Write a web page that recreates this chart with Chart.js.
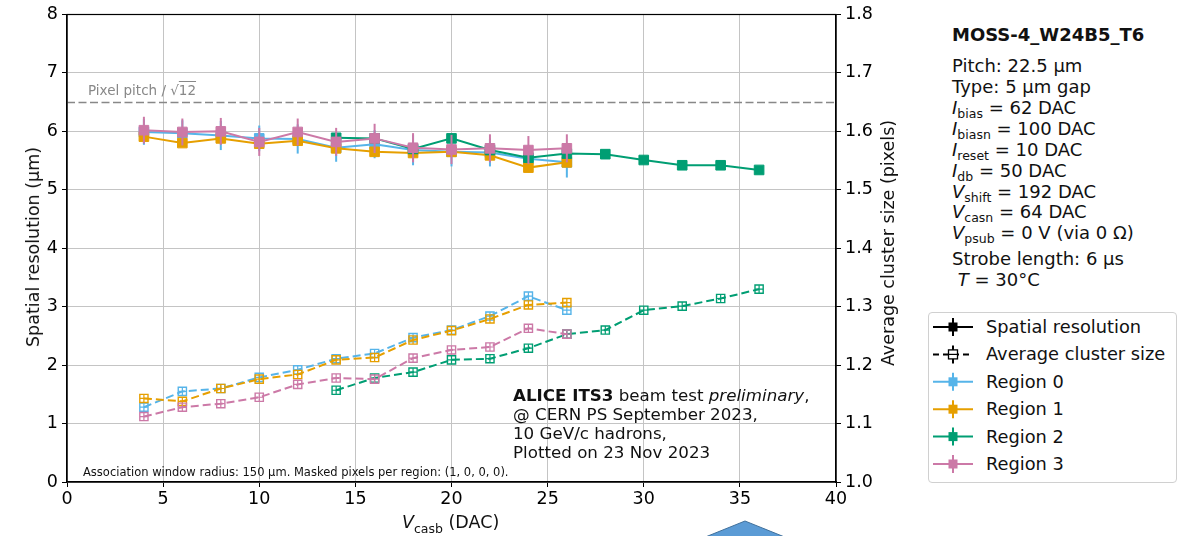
<!DOCTYPE html>
<html>
<head>
<meta charset="utf-8">
<script src="https://cdn.jsdelivr.net/npm/chart.js@4.4.0/dist/chart.umd.min.js"></script>
<style>
  body { margin: 0; background: #fff; font-family: "DejaVu Sans", sans-serif; color: #111; }
  #wrap { position: relative; width: 1178px; height: 536px; overflow: hidden; }
  #plot { position: absolute; left: 0; top: 0; }
  .t { position: absolute; white-space: nowrap; }
  .info { left: 952px; font-size: 18px; line-height: 20px; }
  .info sub { font-size: 12.5px; line-height: 0; vertical-align: -4px; }
  .leg { left: 986px; font-size: 17.8px; line-height: 20px; }
  #legbox { position: absolute; left: 928px; top: 312px; width: 247px; height: 169px;
            border: 1px solid #d0d0d0; border-radius: 4px; }
</style>
</head>
<body>
<div id="wrap">
  <canvas id="plot" width="920" height="536"></canvas>

  <div class="t" style="left:88px; top:82px; font-size:13.5px; color:#888;">Pixel pitch / √<span style="text-decoration:overline;">12</span></div>
  <div class="t" style="left:83px; top:465px; font-size:11.5px;">Association window radius: 150 μm. Masked pixels per region: (1, 0, 0, 0).</div>
  <div class="t" style="left:513px; top:386px; font-size:16.7px; line-height:19px;">
    <b>ALICE ITS3</b> beam test <i>preliminary</i>,<br>@ CERN PS September 2023,<br>10 GeV/c hadrons,<br>Plotted on 23 Nov 2023
  </div>

  <div class="t" style="left:402px; top:512px; font-size:17.5px;"><i>V</i><sub style="font-size:12.5px;">casb</sub> (DAC)</div>
  <div class="t" style="left:33px; top:247px; font-size:17.5px; transform: translate(-50%,-50%) rotate(-90deg);">Spatial resolution (μm)</div>
  <div class="t" style="left:888px; top:243px; font-size:17.5px; transform: translate(-50%,-50%) rotate(-90deg);">Average cluster size (pixels)</div>

  <div class="t info" style="top:25px; font-weight:bold;">MOSS-4_W24B5_T6</div>
  <div class="t info" style="top:56px;">Pitch: 22.5 μm</div>
  <div class="t info" style="top:77px;">Type: 5 μm gap</div>
  <div class="t info" style="top:98px;"><i>I</i><sub>bias</sub> = 62 DAC</div>
  <div class="t info" style="top:119px;"><i>I</i><sub>biasn</sub> = 100 DAC</div>
  <div class="t info" style="top:140px;"><i>I</i><sub>reset</sub> = 10 DAC</div>
  <div class="t info" style="top:161px;"><i>I</i><sub>db</sub> = 50 DAC</div>
  <div class="t info" style="top:182px;"><i>V</i><sub>shift</sub> = 192 DAC</div>
  <div class="t info" style="top:202px;"><i>V</i><sub>casn</sub> = 64 DAC</div>
  <div class="t info" style="top:223px;"><i>V</i><sub>psub</sub> = 0 V (via 0 Ω)</div>
  <div class="t info" style="top:249px;">Strobe length: 6 μs</div>
  <div class="t info" style="top:270px;">&nbsp;<i>T</i> = 30°C</div>

  <div id="legbox"></div>
  <svg class="t" style="left:930px; top:314px;" width="50" height="166" id="legsvg"></svg>
  <div class="t leg" style="top:317px;">Spatial resolution</div>
  <div class="t leg" style="top:344px;">Average cluster size</div>
  <div class="t leg" style="top:372px;">Region 0</div>
  <div class="t leg" style="top:399px;">Region 1</div>
  <div class="t leg" style="top:427px;">Region 2</div>
  <div class="t leg" style="top:454px;">Region 3</div>

  <svg class="t" style="left:0; top:0;" width="1178" height="536" pointer-events="none">
    <polygon points="698,540 745,521 792,540" fill="#5B9BD5" stroke="#41719C" stroke-width="1"/>
  </svg>
</div>

<script>
// V_casb values (DAC)
var vcasbA = [4, 6, 8, 10, 12, 14, 16, 18, 20, 22, 24, 26];   // regions 0, 1, 3
var vcasbB = [14, 16, 18, 20, 22, 24, 26, 28, 30, 32, 34, 36]; // region 2

// spatial resolution (um) and its errors
var resR0 = [5.99, 5.97, 5.93, 5.88, 5.87, 5.72, 5.78, 5.68, 5.65, 5.64, 5.53, 5.47];
var errR0 = [0.22, 0.22, 0.25, 0.22, 0.25, 0.24, 0.24, 0.26, 0.25, 0.24, 0.23, 0.26];
var resR1 = [5.91, 5.80, 5.88, 5.79, 5.84, 5.71, 5.65, 5.63, 5.65, 5.59, 5.38, 5.47];
var errR1 = [0.06, 0.06, 0.06, 0.06, 0.06, 0.06, 0.06, 0.06, 0.06, 0.06, 0.06, 0.06];
var resR2 = [5.89, 5.88, 5.70, 5.88, 5.68, 5.55, 5.62, 5.61, 5.51, 5.42, 5.42, 5.34];
var errR2 = [0.05, 0.05, 0.05, 0.05, 0.05, 0.05, 0.05, 0.05, 0.05, 0.05, 0.05, 0.05];
var resR3 = [6.02, 5.99, 6.00, 5.82, 5.99, 5.82, 5.88, 5.72, 5.69, 5.71, 5.68, 5.71];
var errR3 = [0.23, 0.23, 0.23, 0.24, 0.23, 0.24, 0.25, 0.25, 0.25, 0.24, 0.24, 0.24];

// average cluster size (pixels)
var csR0 = [1.128, 1.155, 1.160, 1.179, 1.192, 1.211, 1.220, 1.247, 1.260, 1.284, 1.318, 1.294];
var csR1 = [1.143, 1.138, 1.160, 1.176, 1.184, 1.209, 1.213, 1.243, 1.259, 1.279, 1.303, 1.307];
var csR2 = [1.157, 1.178, 1.188, 1.209, 1.211, 1.229, 1.253, 1.260, 1.294, 1.301, 1.314, 1.330];
var csR3 = [1.112, 1.128, 1.134, 1.145, 1.167, 1.178, 1.176, 1.212, 1.226, 1.231, 1.263, 1.253];

// pixel pitch / sqrt(12)
var pitchLevel = 22.5 / Math.sqrt(12);

var colors = ['#56B4E9', '#E69F00', '#009E73', '#CC79A7'];

function pts(xs, ys) {
  return xs.map(function (x, i) { return { x: x, y: ys[i] }; });
}

function resSet(xs, ys, errs, c, order) {
  return {
    data: pts(xs, ys), errors: errs, yAxisID: 'y',
    borderColor: c, backgroundColor: c, borderWidth: 2,
    pointStyle: 'rect', pointRadius: 6.8, pointBorderWidth: 1,
    pointBackgroundColor: c, pointBorderColor: c, order: order
  };
}

function csSet(xs, ys, c, order) {
  return {
    data: pts(xs, ys), cross: true, yAxisID: 'y1',
    borderColor: c, backgroundColor: c, borderWidth: 2, borderDash: [8, 4],
    pointStyle: 'rect', pointRadius: 5.8, pointBorderWidth: 1.4,
    pointBackgroundColor: 'rgba(255,255,255,0)', pointBorderColor: c, order: order
  };
}

// vertical error bars under each dataset, little crosses in open markers
var errorBars = {
  id: 'errorBars',
  beforeDatasetDraw: function (chart, args) {
    var ds = chart.data.datasets[args.index];
    if (!ds.errors) return;
    var ctx = chart.ctx, sc = chart.scales[ds.yAxisID];
    ctx.save();
    ctx.strokeStyle = ds.borderColor;
    ctx.lineWidth = 2;
    args.meta.data.forEach(function (p, i) {
      var v = ds.data[i].y, e = ds.errors[i];
      ctx.beginPath();
      ctx.moveTo(p.x, sc.getPixelForValue(v - e));
      ctx.lineTo(p.x, sc.getPixelForValue(v + e));
      ctx.stroke();
    });
    ctx.restore();
  },
  afterDatasetDraw: function (chart, args) {
    var ds = chart.data.datasets[args.index];
    if (!ds.cross) return;
    var ctx = chart.ctx;
    ctx.save();
    ctx.strokeStyle = ds.borderColor;
    ctx.lineWidth = 1.2;
    args.meta.data.forEach(function (p) {
      ctx.beginPath();
      ctx.moveTo(p.x - 4, p.y); ctx.lineTo(p.x + 4, p.y);
      ctx.moveTo(p.x, p.y - 4); ctx.lineTo(p.x, p.y + 4);
      ctx.stroke();
    });
    ctx.restore();
  }
};

var frame = {
  id: 'frame',
  afterDraw: function (chart) {
    var a = chart.chartArea, ctx = chart.ctx;
    ctx.save();
    ctx.strokeStyle = '#000';
    ctx.lineWidth = 1.2;
    ctx.strokeRect(a.left, a.top, a.right - a.left, a.bottom - a.top);
    ctx.restore();
  }
};

var tickFont = { family: 'DejaVu Sans', size: 17.5 };

var plot = document.getElementById('plot').getContext('2d');
var chart = new Chart(plot, {
  type: 'line',
  data: {
    datasets: [
      resSet(vcasbA, resR3, errR3, colors[3], 1),
      csSet(vcasbA, csR3, colors[3], 2),
      resSet(vcasbB, resR2, errR2, colors[2], 3),
      csSet(vcasbB, csR2, colors[2], 4),
      resSet(vcasbA, resR1, errR1, colors[1], 5),
      csSet(vcasbA, csR1, colors[1], 6),
      resSet(vcasbA, resR0, errR0, colors[0], 7),
      csSet(vcasbA, csR0, colors[0], 8),
      {
        data: [{ x: 0, y: pitchLevel }, { x: 40, y: pitchLevel }], yAxisID: 'y',
        borderColor: '#888', borderWidth: 1.6, borderDash: [8, 3.5],
        pointRadius: 0, order: 9
      }
    ]
  },
  options: {
    responsive: false,
    animation: false,
    devicePixelRatio: 1,
    layout: { padding: { top: 12, left: 0, right: 0, bottom: 0 } },
    plugins: { legend: { display: false }, tooltip: { enabled: false } },
    scales: {
      x: {
        type: 'linear', min: 0, max: 40,
        afterFit: function (s) { s.height = 54; },
        ticks: { stepSize: 5, color: '#000', font: tickFont, padding: 2, maxRotation: 0 },
        grid: { color: '#c4c4c4', tickColor: '#000', tickLength: 5 },
        border: { color: '#000', width: 1.2 }
      },
      y: {
        position: 'left', min: 0, max: 8,
        afterFit: function (s) { s.width = 67; },
        ticks: { stepSize: 1, color: '#000', font: tickFont, padding: 4 },
        grid: { color: '#c4c4c4', tickColor: '#000', tickLength: 5 },
        border: { color: '#000', width: 1.2 }
      },
      y1: {
        position: 'right', min: 1.0, max: 1.8,
        afterFit: function (s) { s.width = 84; },
        ticks: { stepSize: 0.1, color: '#000', font: tickFont, padding: 4,
                 callback: function (v) { return v.toFixed(1); } },
        grid: { drawOnChartArea: false, tickColor: '#000', tickLength: 5 },
        border: { color: '#000', width: 1.2 }
      }
    }
  },
  plugins: [errorBars, frame]
});

// legend samples
var legendRows = [
  { c: '#000', dash: false, open: false },
  { c: '#000', dash: true, open: true },
  { c: colors[0], dash: false, open: false },
  { c: colors[1], dash: false, open: false },
  { c: colors[2], dash: false, open: false },
  { c: colors[3], dash: false, open: false }
];
var svg = document.getElementById('legsvg');
var html = '';
legendRows.forEach(function (r, i) {
  var y = 13 + i * 27.4;
  html += '<line x1="3" x2="43" y1="' + y + '" y2="' + y + '" stroke="' + r.c + '" stroke-width="2"' +
          (r.dash ? ' stroke-dasharray="6,4"' : '') + '/>';
  html += '<line x1="23" x2="23" y1="' + (y - 9) + '" y2="' + (y + 9) + '" stroke="' + r.c + '" stroke-width="2"/>';
  if (r.open) {
    html += '<rect x="18.5" y="' + (y - 4.5) + '" width="9" height="9" fill="#fff" stroke="' + r.c + '" stroke-width="1.3"/>';
    html += '<line x1="19" x2="27" y1="' + y + '" y2="' + y + '" stroke="' + r.c + '" stroke-width="1.2"/>';
  } else {
    html += '<rect x="18.5" y="' + (y - 4.5) + '" width="9" height="9" fill="' + r.c + '"/>';
  }
});
svg.innerHTML = html;
</script>
</body>
</html>
